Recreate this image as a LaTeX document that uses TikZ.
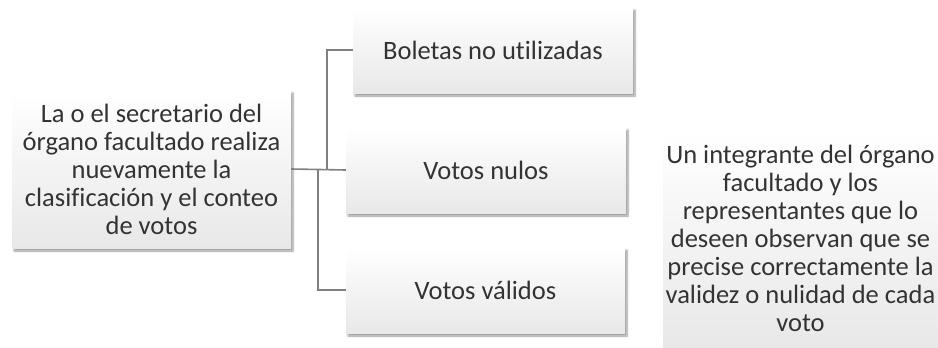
\documentclass[tikz,border=0pt]{standalone}
\usepackage{fontspec}
\setmainfont[Ligatures={NoCommon}]{Carlito}
\usetikzlibrary{positioning, shadows.blur}

\begin{document}
\begin{tikzpicture}[x=1pt, y=-1pt,
  every node/.style={font=\fontsize{26.5}{28}\selectfont, text=black!80},
  blk/.style={top color=white, middle color=white, bottom color=black!9,
              inner sep=0pt, align=center,
              blur shadow={shadow xshift=2pt, shadow yshift=-3pt,
                           shadow blur steps=6, shadow opacity=40}},
  conn/.style={draw=black!50, line width=1.6pt}
]
\useasboundingbox (0,0) rectangle (938,348);
\node[blk, minimum width=279, minimum height=158] (src) at (151.5,169)
  {La o el secretario del\\órgano facultado realiza\\nuevamente la\\clasificación y el conteo\\de votos};
\node[blk, minimum width=280, minimum height=86] (top) at (493,50) {Boletas no utilizadas};
\node[blk, minimum width=280, minimum height=86] (mid) at (486,170) {Votos nulos};
\node[blk, minimum width=279, minimum height=86] (bot) at (485.5,290) {Votos válidos};
\node[blk, minimum width=275, minimum height=217] (obs) at (800.5,238.5)
  {Un integrante del órgano\\facultado y los\\representantes que lo\\deseen observan que se\\precise correctamente la\\validez o nulidad de cada\\voto};
% uniones
\coordinate (j1) at (327,170);
\coordinate (j2) at (318,170);
\draw[conn] (src.east) -- (mid.west);
\draw[conn] (top.west) -| (j1);
\draw[conn] (bot.west) -| (j2);
\end{tikzpicture}
\end{document}
